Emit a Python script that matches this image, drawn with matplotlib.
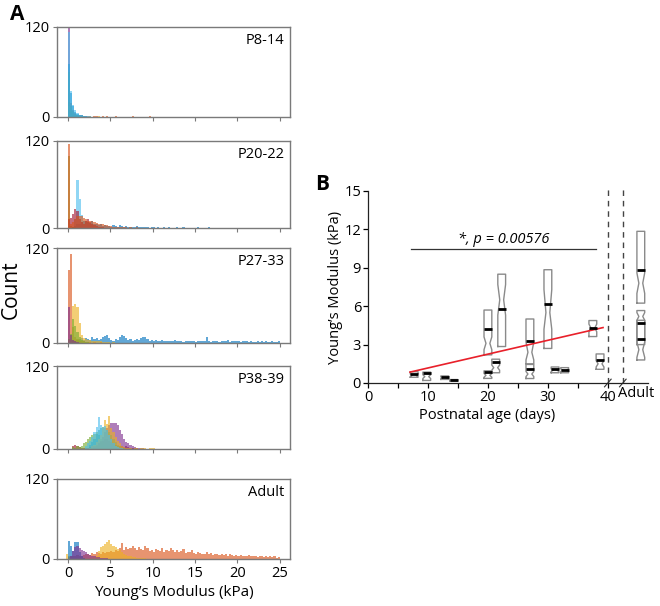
import numpy as np
import matplotlib
matplotlib.use('Agg')
import matplotlib.pyplot as plt

plt.rcParams['font.family'] = ['Open Sans', 'DejaVu Sans']

# ---------------- Panel A data (counts per 0.25 kPa bin) ----------------
BIN = 0.25
panel_names = ["P8-14", "P20-22", "P27-33", "P38-39", "Adult"]

# P8-14
p8_orange_start = 0.0
p8_orange = [20, 18, 9, 5, 3, 2, 2, 1, 1, 1, 1, 0, 1, 1, 0, 0, 1, 0, 1, 0, 0, 0, 1,
             0, 0, 0, 0, 0, 0, 0, 1, 0, 0, 0, 0, 0, 0, 0, 1]
p8_yellow_start = 0.0
p8_yellow = [15, 12, 6, 4, 2, 1, 1, 1, 0, 0, 1, 0, 0, 0, 1]
p8_green_start = 0.0
p8_green = [60, 15, 8, 4, 2, 1, 1]
p8_blue_start = 0.0
p8_blue = [70, 32, 14, 7, 4, 2, 2, 1, 1]
p8_lightblue_start = 0.0
p8_lightblue = [114, 34, 16, 9, 5, 3, 2, 1, 1, 1, 1]
p8_purple_start = 0.0
p8_purple = [120, 8, 3, 2, 1]

# P20-22
p20_blue_start = 0.5
p20_blue = [2, 3, 5, 6, 8, 10, 9, 8, 7, 9, 6, 5, 4, 5, 3, 4, 3, 3, 2, 4, 3, 2, 4, 3,
            2, 3, 2, 2, 1, 2, 3, 1, 2, 1, 1, 2, 0, 1, 1, 0, 1, 0, 0, 1, 0, 1, 0, 0,
            0, 1, 0, 0, 1, 0, 0, 0, 0, 0, 0, 1, 0, 0, 0, 0, 1]
p20_lightblue_start = 0.0
p20_lightblue = [0, 0, 0, 12, 66, 40, 18, 9, 5, 3, 2, 1, 1]
p20_green_start = 0.0
p20_green = [100, 3, 2, 1]
p20_darkred_start = 0.0
p20_darkred = [12, 14, 20, 26, 24, 12, 8, 6, 10, 12, 8, 5, 4, 3, 2, 1, 1]
p20_orange_start = 0.0
p20_orange = [116, 5, 8, 12, 16, 17, 16, 14, 12, 10, 9, 9, 8, 7, 6, 5, 5, 4, 4, 3,
              3, 2, 2, 2, 1, 1, 1, 1, 0, 1, 0, 0, 1]

# P27-33
p27_blue_start = 0.5
p27_blue = [2, 3, 4, 5, 6, 4,
            6, 5, 4, 7, 5, 6, 4, 5,
            7, 9, 10, 6, 4, 3, 5, 4,
            8, 10, 9, 6, 4, 5, 3, 4,
            5, 4, 6, 7, 8, 5, 3, 4,
            3, 4, 2, 3, 4, 2, 3, 2,
            3, 2, 4, 2, 2, 3, 1, 2,
            2, 3, 2, 2, 1, 3, 2, 2,
            3, 8, 2, 1, 2, 3, 2, 1,
            2, 3, 2, 4, 1, 2, 3, 2,
            2, 1, 2, 3, 2, 1, 2, 1,
            1, 2, 1, 2, 1, 3, 1, 1,
            2, 1, 1, 2]
p27_orange_start = 0.0
p27_orange = [92, 112, 20, 8, 5, 3, 2, 2, 1, 1, 1, 0, 1, 0, 0, 1]
p27_yellow_start = 0.0
p27_yellow = [5, 10, 47, 49, 46, 25, 10, 6, 5, 4, 4, 3, 3, 2, 2, 2, 1, 1, 1, 1, 0, 1]
p27_green_start = 0.0
p27_green = [5, 12, 30, 22, 14, 8, 4, 2, 1, 1]
p27_purple_start = 0.0
p27_purple = [45, 10, 4, 2, 1]

# P38-39
p38_darkred_start = 0.5
p38_darkred = [4, 6, 5, 3, 2, 1, 1, 2, 3, 4, 5, 6, 8, 10, 12, 14, 15, 12, 10, 8, 6,
               5, 4, 5, 3, 4, 3, 2, 2, 1, 1]
p38_green_start = 0.0
p38_green = [0, 0, 3, 2, 4, 3, 5, 8, 10, 15, 18, 20, 22, 25, 20, 15, 10, 6, 3, 2, 1]
p38_purple_start = 3.0
p38_purple = [3, 5, 8, 12, 18, 25, 30, 35, 38, 37, 38, 35, 28, 22, 15, 10, 8, 6, 5,
              3, 2, 2, 1, 1]
p38_teal_start = 2.5
p38_teal = [6, 10, 15, 22, 28, 30, 32, 30, 28, 25, 20, 15, 10, 6, 4, 2, 1]
p38_yellow_start = 2.5
p38_yellow = [2, 4, 6, 10, 15, 20, 30, 42, 36, 48, 30, 25, 18, 12, 8, 5, 3, 2, 1, 1,
              0, 1, 1, 0, 1, 2, 1, 0, 2, 1, 1]
p38_lightblue_start = 0.0
p38_lightblue = [0, 0, 0, 0, 0, 0, 0, 0, 5, 8, 12, 18, 25, 32, 46, 35, 30, 33, 28,
                 20, 14, 8, 5, 3, 2, 1]

# Adult
ad_orange_start = 0.0
ad_orange = [3, 4, 5, 5, 6, 4, 5, 6,
             7, 8, 6, 9, 8, 10, 9, 8,
             10, 9, 11, 10, 12, 11, 13, 12,
             16, 24, 14, 18, 15, 17, 20, 16,
             14, 18, 15, 13, 19, 16, 12, 14,
             11, 15, 13, 12, 16, 10, 14, 12,
             17, 13, 11, 14, 10, 12, 15, 9,
             11, 10, 13, 9, 8, 11, 9, 7,
             8, 10, 7, 9, 6, 8, 7, 6,
             7, 6, 8, 5, 7, 6, 5, 6,
             5, 6, 4, 5, 4, 6, 4, 5,
             4, 3, 5, 4, 3, 4, 3, 4,
             3, 4, 2, 3]
ad_yellow_start = -0.25
ad_yellow = [8, 4, 3, 2, 2, 1, 1, 1, 2, 2, 2, 2, 2, 3, 5, 12, 18, 20, 22, 25, 28, 22,
             20, 18, 15, 14, 10, 8, 6, 5, 4, 3, 3, 2, 2, 1, 1, 1]
ad_blue_start = 0.0
ad_blue = [27, 20, 12, 26, 25, 10, 4, 2]
ad_purple_start = 0.25
ad_purple = [5, 12, 18, 20, 17, 14, 12, 10, 8, 6, 5, 4, 3, 3, 2, 2, 1, 1]

hist_ticks = [0, 5, 10, 15, 20, 25]

# ---------------- Panel B data ----------------
box_pos = [7.7, 9.8, 12.8, 14.3, 20.0, 20.0, 21.3, 22.3, 27.0, 27.0, 30.0, 31.2, 32.8, 37.5, 38.7,
           45.5, 45.5, 45.5]
box_q1 = [0.45, 0.2, 0.28, 0.17, 0.36, 2.2, 0.8, 2.85, 1.5, 0.35, 2.7, 0.8, 0.8, 3.63, 1.07,
          6.24, 3.0, 1.8]
box_q3 = [0.88, 0.85, 0.55, 0.27, 0.95, 5.7, 1.86, 8.5, 5.0, 1.45, 8.85, 1.25, 1.2, 4.88, 2.27,
          11.85, 5.66, 4.9]
box_med = [0.6, 0.5, 0.4, 0.22, 0.6, 3.1, 1.2, 6.5, 2.4, 0.7, 5.5, 1.0, 1.0, 4.3, 1.5,
           7.8, 5.2, 2.6]
box_cilo = [0.5, 0.35, 0.33, 0.19, 0.45, 2.6, 1.0, 5.3, 1.8, 0.5, 4.2, 0.9, 0.9, 4.0, 1.25,
            7.0, 4.9, 2.0]
box_cihi = [0.7, 0.65, 0.47, 0.25, 0.75, 3.6, 1.4, 7.7, 3.2, 0.9, 7.3, 1.1, 1.1, 4.6, 1.75,
            8.6, 5.5, 3.2]
box_mean = [0.72, 0.8, 0.45, 0.22, 0.85, 4.2, 1.62, 5.82, 3.3, 1.07, 6.18, 1.07, 1.05, 4.33, 1.8,
            8.85, 4.67, 3.45]
fit_days = [7.0, 39.2]
fit_vals = [0.85, 4.33]
sig_days = [7.2, 38.1]
sig_level = 10.5
age_ticks = [0, 10, 20, 30, 40]
age_minor = [5, 15, 25, 35]
mod_ticks = [0, 3, 6, 9, 12, 15]
break_days = [40.0, 42.5]
adult_label_day = 44.8

# ---------------- Figure ----------------
W, H = 660, 606
fig = plt.figure(figsize=(W / 100, H / 100), dpi=100)


def px_axes(l, t, r, b):
    return fig.add_axes([l / W, 1 - b / H, (r - l) / W, (b - t) / H])


C = {
    'blue': '#0072BD', 'orange': '#D95319', 'yellow': '#EDB120', 'purple': '#7E2F8E',
    'green': '#77AC30', 'lightblue': '#4DBEEE', 'darkred': '#A2142F', 'teal': '#2AA58F',
}
ALPHA = 0.62

panels = [
    [('purple', p8_purple_start, p8_purple), ('orange', p8_orange_start, p8_orange),
     ('yellow', p8_yellow_start, p8_yellow), ('green', p8_green_start, p8_green),
     ('blue', p8_blue_start, p8_blue), ('lightblue', p8_lightblue_start, p8_lightblue)],
    [('blue', p20_blue_start, p20_blue), ('lightblue', p20_lightblue_start, p20_lightblue),
     ('green', p20_green_start, p20_green), ('darkred', p20_darkred_start, p20_darkred),
     ('orange', p20_orange_start, p20_orange)],
    [('blue', p27_blue_start, p27_blue), ('orange', p27_orange_start, p27_orange),
     ('yellow', p27_yellow_start, p27_yellow), ('green', p27_green_start, p27_green),
     ('purple', p27_purple_start, p27_purple)],
    [('darkred', p38_darkred_start, p38_darkred), ('green', p38_green_start, p38_green),
     ('purple', p38_purple_start, p38_purple), ('teal', p38_teal_start, p38_teal),
     ('yellow', p38_yellow_start, p38_yellow), ('lightblue', p38_lightblue_start, p38_lightblue)],
    [('orange', ad_orange_start, ad_orange), ('yellow', ad_yellow_start, ad_yellow),
     ('blue', ad_blue_start, ad_blue), ('purple', ad_purple_start, ad_purple)],
]

rects = [(57, 27, 290, 117), (57, 141, 290, 228), (57, 248, 290, 343),
         (57, 366, 290, 449), (57, 479, 290, 559)]
GRAY = '#7a7a7a'
for i, (rect, series, name) in enumerate(zip(rects, panels, panel_names)):
    ax = px_axes(*rect)
    for key, start, counts in series:
        x = start + BIN * np.arange(len(counts))
        ax.bar(x, counts, width=BIN, align='edge', color=C[key], alpha=ALPHA, linewidth=0)
    ax.set_xlim(-1.3, 26.2)
    ax.set_ylim(0, 120)
    ax.set_yticks([0, 120])
    ax.set_xticks(hist_ticks)
    for s in ax.spines.values():
        s.set_color(GRAY)
        s.set_linewidth(1.0)
    ax.tick_params(direction='out', length=3, width=0.8, color=GRAY, labelsize=10.5, pad=2)
    if i < 4:
        ax.tick_params(axis='x', labelbottom=False)
    else:
        ax.set_xlabel('Young’s Modulus (kPa)', fontsize=11, labelpad=3)
    ax.annotate(name, xy=(1, 1), xycoords='axes fraction', xytext=(-4, -10),
                textcoords='offset points', ha='right', va='center', fontsize=10.5)

fig.text(11 / W, 1 - 290 / H, 'Count', rotation=90, ha='center', va='center', fontsize=15)
fig.text(17 / W, 1 - 14 / H, 'A', ha='center', va='center', fontsize=15, fontweight='bold')
fig.text(322 / W, 1 - 185 / H, 'B', ha='center', va='center', fontsize=15, fontweight='bold')

# ---------------- Panel B ----------------
axb = px_axes(368, 191, 648, 383)
stats = []
for p, q1, q3, md, lo, hi, mn in zip(box_pos, box_q1, box_q3, box_med, box_cilo, box_cihi, box_mean):
    stats.append(dict(med=md, q1=q1, q3=q3, cilo=lo, cihi=hi, whislo=q1, whishi=q3,
                      mean=mn, fliers=[]))
axb.bxp(stats, positions=box_pos, widths=1.3, shownotches=True, showmeans=True,
        meanline=True, showcaps=False, showfliers=False, manage_ticks=False,
        boxprops=dict(color='#8a8a8a', linewidth=1.0),
        whiskerprops=dict(linewidth=0),
        medianprops=dict(linewidth=0),
        meanprops=dict(color='black', linewidth=2.0, linestyle='-'))
axb.plot(fit_days, fit_vals, color='#e8202a', linewidth=1.2)
axb.plot(sig_days, [sig_level, sig_level], color='#333333', linewidth=0.9)
axb.text(sum(sig_days) / 2, sig_level + 0.15, '*, p = 0.00576', ha='center', va='bottom',
         fontsize=10.5, style='italic')
for d in break_days:
    axb.plot([d, d], [0, 15.2], color='#444444', linewidth=1.0, linestyle=(0, (4, 3.5)),
             clip_on=False)
    axb.plot([d - 0.55, d + 0.55], [-0.3, 0.3], color='#333333', linewidth=0.8, clip_on=False)

axb.set_xlim(0, 46.7)
axb.set_ylim(0, 15)
axb.set_xticks(age_ticks)
axb.set_xticks(age_minor, minor=True)
axb.set_yticks(mod_ticks)
axb.spines['top'].set_visible(False)
axb.spines['right'].set_visible(False)
for s in ('left', 'bottom'):
    axb.spines[s].set_linewidth(0.9)
    axb.spines[s].set_color('#222222')
axb.tick_params(which='both', direction='out', length=3.5, width=0.9, labelsize=10.5, pad=1.5)
axb.text(adult_label_day, -0.018, 'Adult', transform=axb.get_xaxis_transform(),
         ha='center', va='top', fontsize=10.5)
axb.set_xlabel('Postnatal age (days)', fontsize=10.5)
axb.xaxis.set_label_coords((487 - 368) / 280, -0.13)
axb.set_ylabel('Young’s Modulus (kPa)', fontsize=10.5)
axb.yaxis.set_label_coords(-0.09, 0.5)

fig.savefig('out.png', dpi=100)
